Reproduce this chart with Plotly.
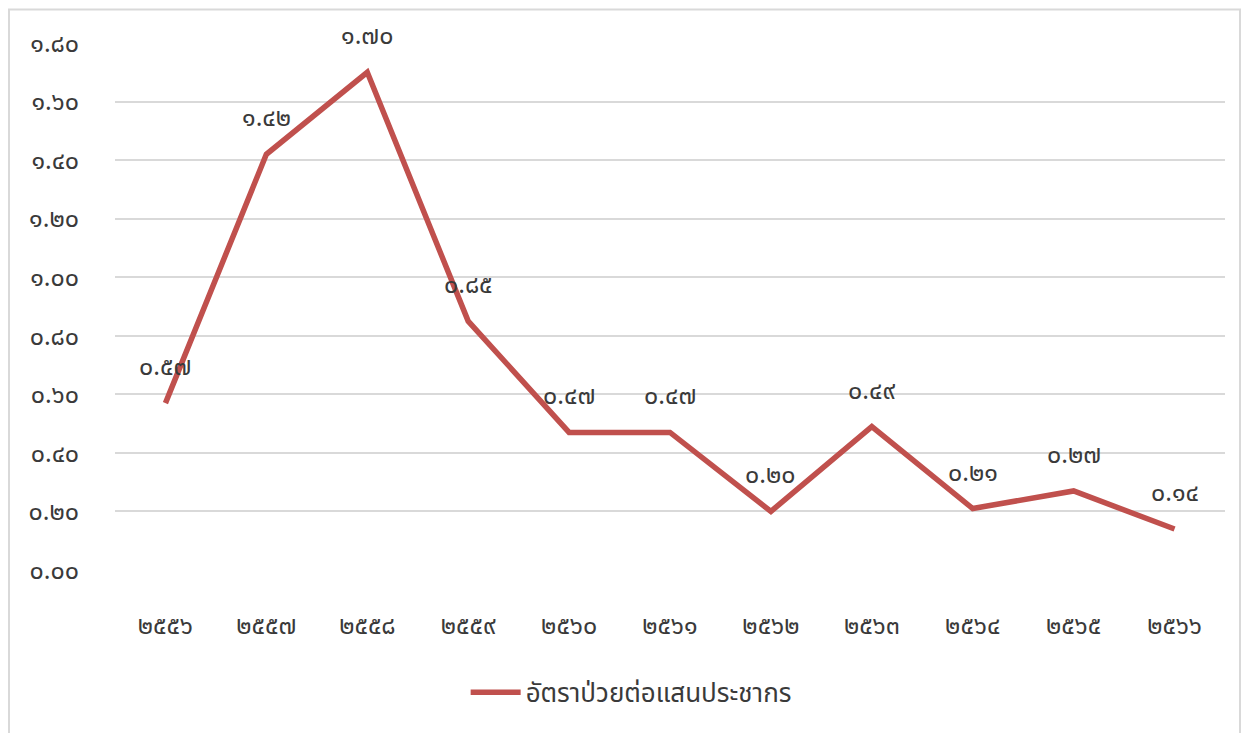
import plotly.graph_objects as go

years = ['๒๕๕๖', '๒๕๕๗', '๒๕๕๘', '๒๕๕๙', '๒๕๖๐', '๒๕๖๑', '๒๕๖๒', '๒๕๖๓', '๒๕๖๔', '๒๕๖๕', '๒๕๖๖']
rates = [0.57, 1.42, 1.70, 0.85, 0.47, 0.47, 0.20, 0.49, 0.21, 0.27, 0.14]
series_name = 'อัตราป่วยต่อแสนประชากร'
y_ticks = [0.0, 0.2, 0.4, 0.6, 0.8, 1.0, 1.2, 1.4, 1.6, 1.8]

THAI = str.maketrans('0123456789', '๐๑๒๓๔๕๖๗๘๙')


def thai(v):
    return f'{v:.2f}'.translate(THAI)


FONT = 'Tahoma, Noto Sans Thai, Noto Sans, DejaVu Sans, sans-serif'
TXT = '#3a3a3a'

fig = go.Figure()
fig.add_trace(go.Scatter(
    x=years, y=rates, mode='lines', name=series_name,
    line=dict(color='#C0504D', width=5.5),
    hoverinfo='skip',
))

for xv, yv in zip(years, rates):
    fig.add_annotation(x=xv, y=yv, text=thai(yv), showarrow=False,
                       yshift=36, font=dict(family=FONT, size=25, color=TXT))

fig.add_shape(type='rect', xref='paper', yref='paper',
              x0=-0.0955, x1=1.0135, y0=-0.4, y1=1.0635,
              line=dict(color='#d9d9d9', width=2), fillcolor='rgba(0,0,0,0)', layer='below')

fig.update_layout(
    width=1250, height=733,
    margin=dict(l=107, r=33, t=35, b=171),
    paper_bgcolor='white', plot_bgcolor='white',
    font=dict(family=FONT, color=TXT),
    showlegend=True,
    legend=dict(orientation='h', x=0.465, xanchor='center', y=-0.232, yanchor='middle',
                font=dict(size=26, color=TXT), itemwidth=50),
    xaxis=dict(type='category', range=[-0.5, 10.5], showgrid=False, zeroline=False,
               showline=False, ticks='', tickfont=dict(size=25, color=TXT),
               ticklabelstandoff=38, fixedrange=True),
    yaxis=dict(range=[0, 1.8], tickvals=y_ticks, ticktext=[thai(v) for v in y_ticks],
               showgrid=True, gridcolor='#d9d9d9', gridwidth=2, zeroline=False,
               showline=False, ticks='', tickfont=dict(size=25, color=TXT),
               ticklabelstandoff=35, fixedrange=True),
)

fig.write_html('out.html')
